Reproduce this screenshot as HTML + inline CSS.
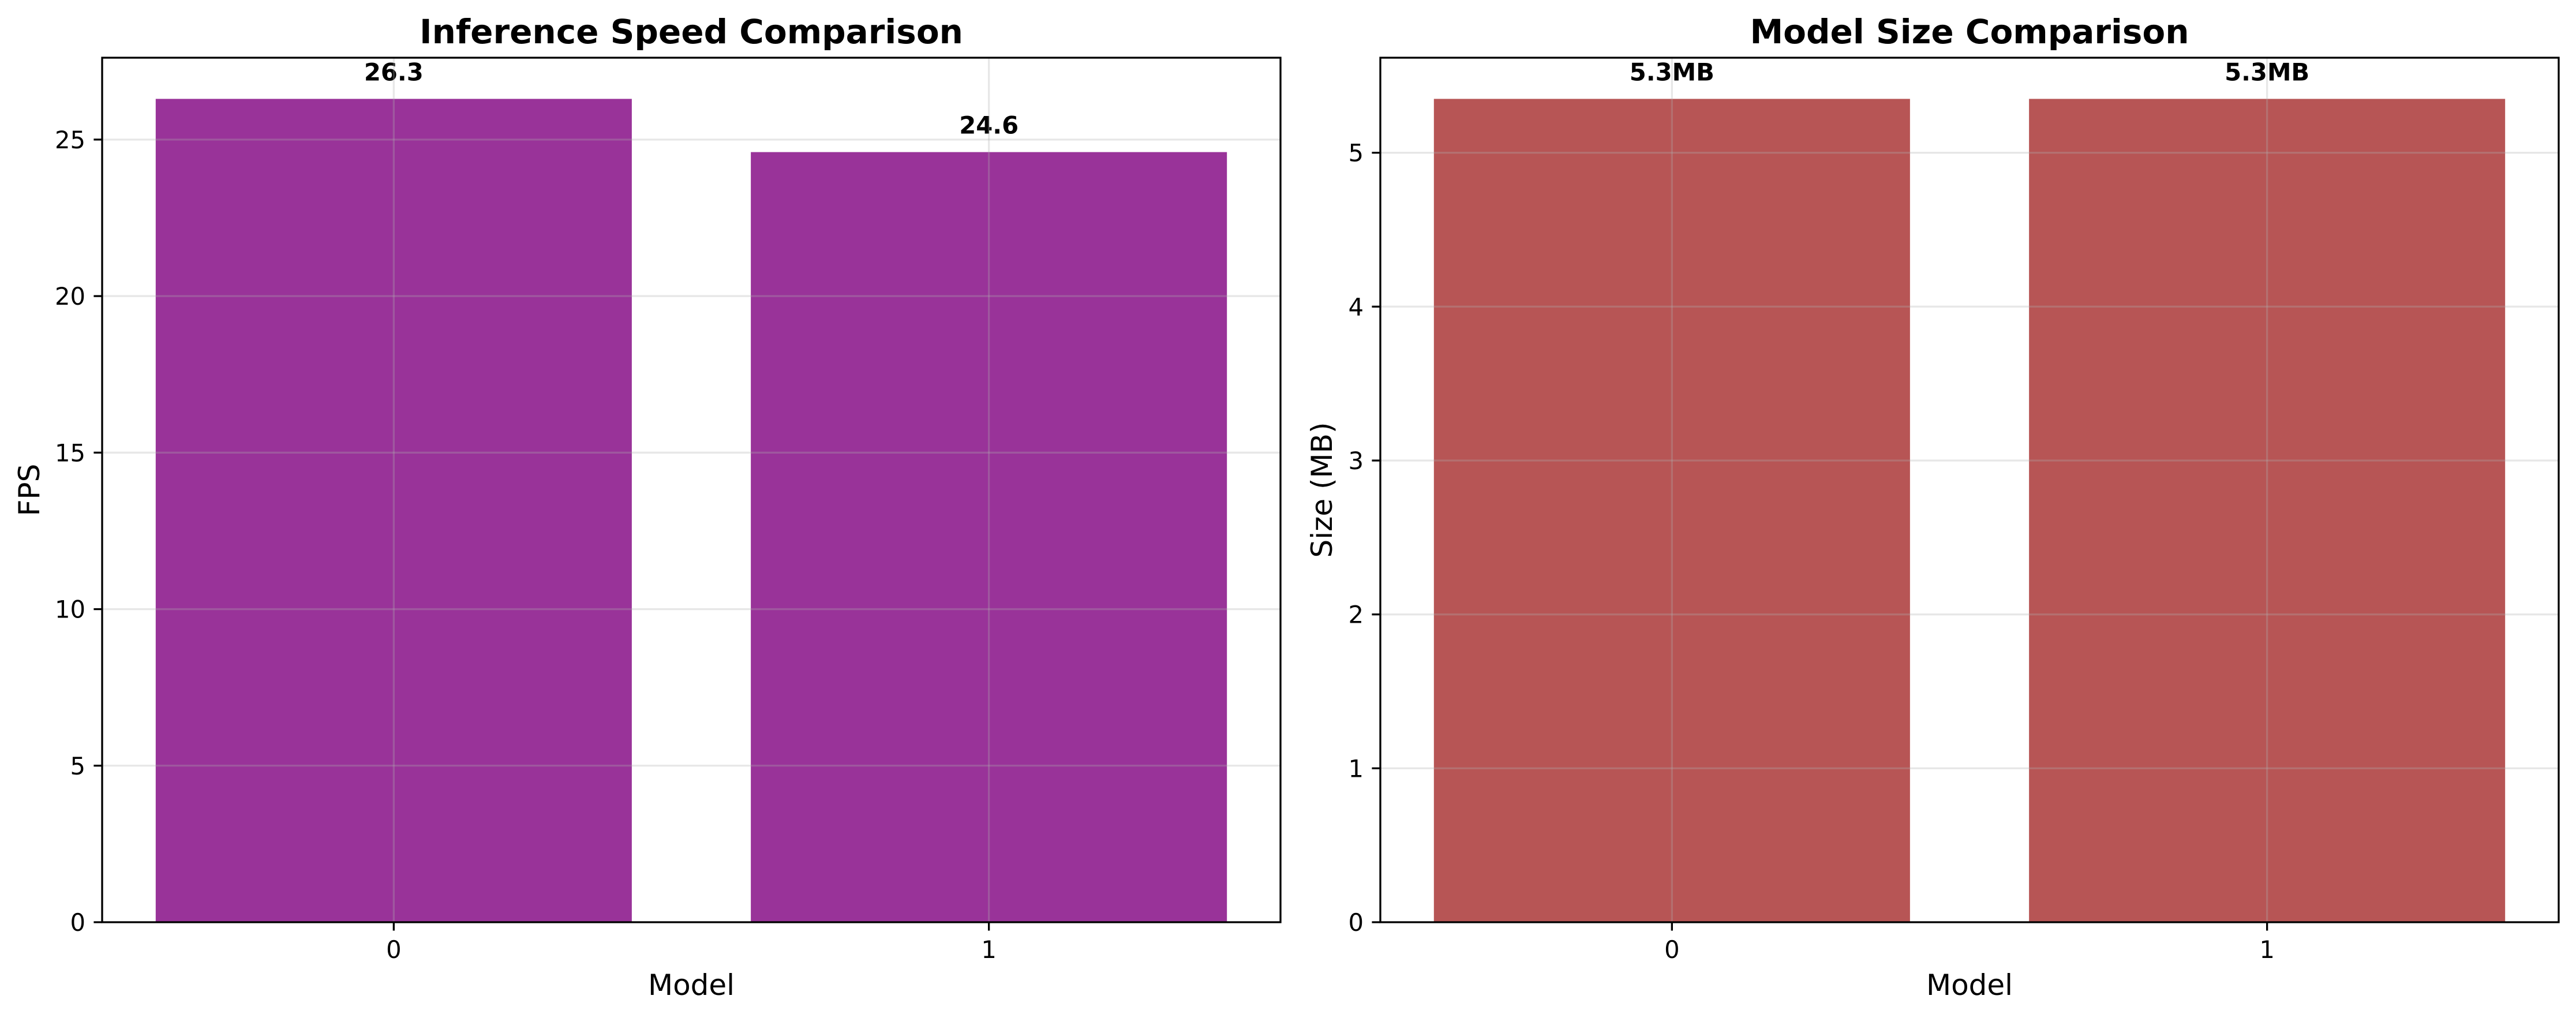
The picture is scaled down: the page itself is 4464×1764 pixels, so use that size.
<!DOCTYPE html>
<html><head><meta charset="utf-8"><style>
html,body{margin:0;padding:0;background:#fff;}
svg{display:block;font-family:"DejaVu Sans","Liberation Sans",sans-serif;}
</style></head><body>
<svg id="chart" width="4464" height="1764" viewBox="0 0 4464 1764" xmlns="http://www.w3.org/2000/svg"></svg>
<script>
const categories = ["0", "1"];
const fpsValues = [26.3, 24.6];
const fpsLabels = ["26.3", "24.6"];
const fpsTicks = [0, 5, 10, 15, 20, 25];
const sizeValues = [5.35, 5.35];
const sizeLabels = ["5.3MB", "5.3MB"];
const sizeTicks = [0, 1, 2, 3, 4, 5];

const NS = "http://www.w3.org/2000/svg";
const svg = document.getElementById("chart");
function mk(tag, attrs, parent, text) {
  const e = document.createElementNS(NS, tag);
  for (const k in attrs) e.setAttribute(k, attrs[k]);
  if (text !== undefined) e.textContent = text;
  (parent || svg).appendChild(e);
  return e;
}

function panel(opt) {
  const g = mk("g", {});
  
  
  const L = opt.left, R = opt.right, T = 100, B = 1598;
  const ymax = Math.max(...opt.values) * 1.05;
  const yS = v => B - (v / ymax) * (B - T);
  const xmin = -0.49, xmax = categories.length - 1 + 0.49;
  const xS = i => L + (i - xmin) / (xmax - xmin) * (R - L);
  const unit = (R - L) / (xmax - xmin);

  // bars
  opt.values.forEach((v, i) => {
    const w = 0.8 * unit;
    const r = mk("rect", {x: xS(i) - w / 2, y: yS(v), width: w, height: B - yS(v), fill: opt.color, "fill-opacity": 0.8}, g);
    
    
    const t = mk("text", {x: xS(i), y: yS(v) - 32, "text-anchor": "middle", "font-size": 41.7, "font-weight": "bold", fill: "#000"}, g, opt.labels[i]);
    
    
  });
  // grid (above bars)
  opt.ticks.forEach(t => {
    const l = mk("line", {x1: L, x2: R, y1: yS(t), y2: yS(t), stroke: "#b0b0b0", "stroke-opacity": 0.3, "stroke-width": 3.3}, g);
    
    
  });
  categories.forEach((c, i) => {
    const l = mk("line", {x1: xS(i), x2: xS(i), y1: T, y2: B, stroke: "#b0b0b0", "stroke-opacity": 0.3, "stroke-width": 3.3}, g);
    
    
  });
  // spines
  const sp = mk("rect", {x: L, y: T, width: R - L, height: B - T, fill: "none", stroke: "#000", "stroke-width": 3.3}, g);
  
  
  // y ticks
  opt.ticks.forEach(t => {
    mk("line", {x1: L - 14.6, x2: L, y1: yS(t), y2: yS(t), stroke: "#000", "stroke-width": 3.3}, g);
    const tl = mk("text", {x: L - 29, y: yS(t) + 15, "text-anchor": "end", "font-size": 41.7, fill: "#000"}, g, String(t));
    
    
  });
  // x ticks
  categories.forEach((c, i) => {
    mk("line", {x1: xS(i), x2: xS(i), y1: B, y2: B + 14.6, stroke: "#000", "stroke-width": 3.3}, g);
    const tl = mk("text", {x: xS(i), y: 1660, "text-anchor": "middle", "font-size": 41.7, fill: "#000"}, g, c);
    
    
  });
  const xl = mk("text", {x: (L + R) / 2, y: 1724, "text-anchor": "middle", "font-size": 50, fill: "#000"}, g, "Model");
  
  
  const yx = opt.ylabelX, yy = (T + B) / 2;
  const yl = mk("text", {x: yx, y: yy, "text-anchor": "middle", "font-size": 50, fill: "#000", transform: `rotate(-90 ${yx} ${yy})`}, g, opt.ylabel);
  
  
  const ti = mk("text", {x: (L + R) / 2, y: 75, "text-anchor": "middle", "font-size": 58, "font-weight": "bold", fill: "#000"}, g, opt.title);
  
  
}

panel({name: "inference-speed-panel", left: 177, right: 2219, values: fpsValues, labels: fpsLabels, ticks: fpsTicks, color: "#800080", ylabel: "FPS", ylabelX: 68, title: "Inference Speed Comparison"});
panel({name: "model-size-panel", left: 2392, right: 4434, values: sizeValues, labels: sizeLabels, ticks: sizeTicks, color: "#a52a2a", ylabel: "Size (MB)", ylabelX: 2308, title: "Model Size Comparison"});
</script>
</body></html>
